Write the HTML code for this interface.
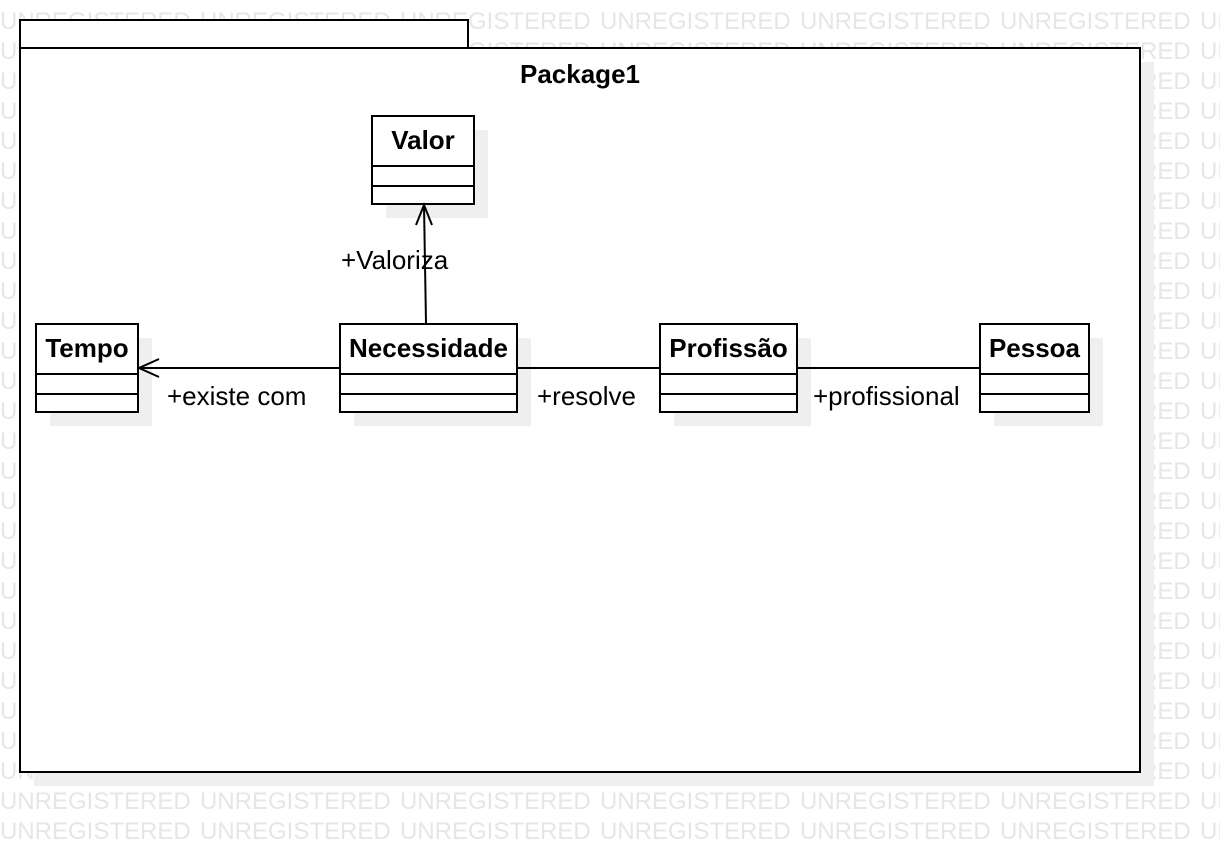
<!DOCTYPE html>
<html><head><meta charset="utf-8"><style>
html,body{margin:0;padding:0;background:#fff;width:1220px;height:852px;overflow:hidden}
svg{display:block;font-family:"Liberation Sans",Arial,sans-serif}
</style></head><body>
<svg id="s" width="1220" height="852" viewBox="0 0 1220 852">
<g id="wm"></g>
<rect x="34" y="62" width="1120" height="724" fill="#efefef"/>
<rect x="20" y="20" width="448" height="28" fill="#fff" stroke="#000" stroke-width="2"/>
<rect x="20" y="48" width="1120" height="724" fill="#fff" stroke="#000" stroke-width="2"/>
<text x="580" y="83" font-size="26" font-weight="bold" text-anchor="middle">Package1</text>
<g id="cls"></g>
<g stroke="#000" stroke-width="2" fill="none">
<line x1="340" y1="368" x2="139" y2="368"/>
<polyline points="159,359 139,368 159,377"/>
<line x1="517" y1="368" x2="660" y2="368"/>
<line x1="797" y1="368" x2="980" y2="368"/>
<line x1="426" y1="323" x2="424" y2="205"/>
<polyline points="416,225 424,205 432,225"/>
</g>
<g font-size="26">
<text x="167" y="405">+existe com</text>
<text x="537" y="405">+resolve</text>
<text x="813" y="405">+profissional</text>
<text x="341" y="269">+Valoriza</text>
</g>
</svg>
<script>
const NS="http://www.w3.org/2000/svg";
const wm=document.getElementById('wm');
for(let r=0;r<28;r++){for(let c=0;c<7;c++){
const t=document.createElementNS(NS,'text');
t.setAttribute('x',c*200);t.setAttribute('y',29+r*30);
t.setAttribute('font-size','24');t.setAttribute('fill','#e6e6e6');


t.textContent='UNREGISTERED';wm.appendChild(t);}}
const classes=[["Valor",372,116,102],["Tempo",36,324,102],["Necessidade",340,324,177],["Profissão",660,324,137],["Pessoa",980,324,109]];
const g=document.getElementById('cls');
classes.forEach(([n,x,y,w])=>{
const grp=document.createElementNS(NS,'g');


grp.innerHTML=`<rect x="${x+14}" y="${y+14}" width="${w}" height="88" fill="#efefef"/>
<rect x="${x}" y="${y}" width="${w}" height="88" fill="#fff" stroke="#000" stroke-width="2"/>
<line x1="${x}" y1="${y+50}" x2="${x+w}" y2="${y+50}" stroke="#000" stroke-width="2"/>
<line x1="${x}" y1="${y+70}" x2="${x+w}" y2="${y+70}" stroke="#000" stroke-width="2"/>
<text x="${x+w/2}" y="${y+33}" font-size="26" font-weight="bold" text-anchor="middle">${n}</text>`;
g.appendChild(grp);});
</script>
</body></html>
